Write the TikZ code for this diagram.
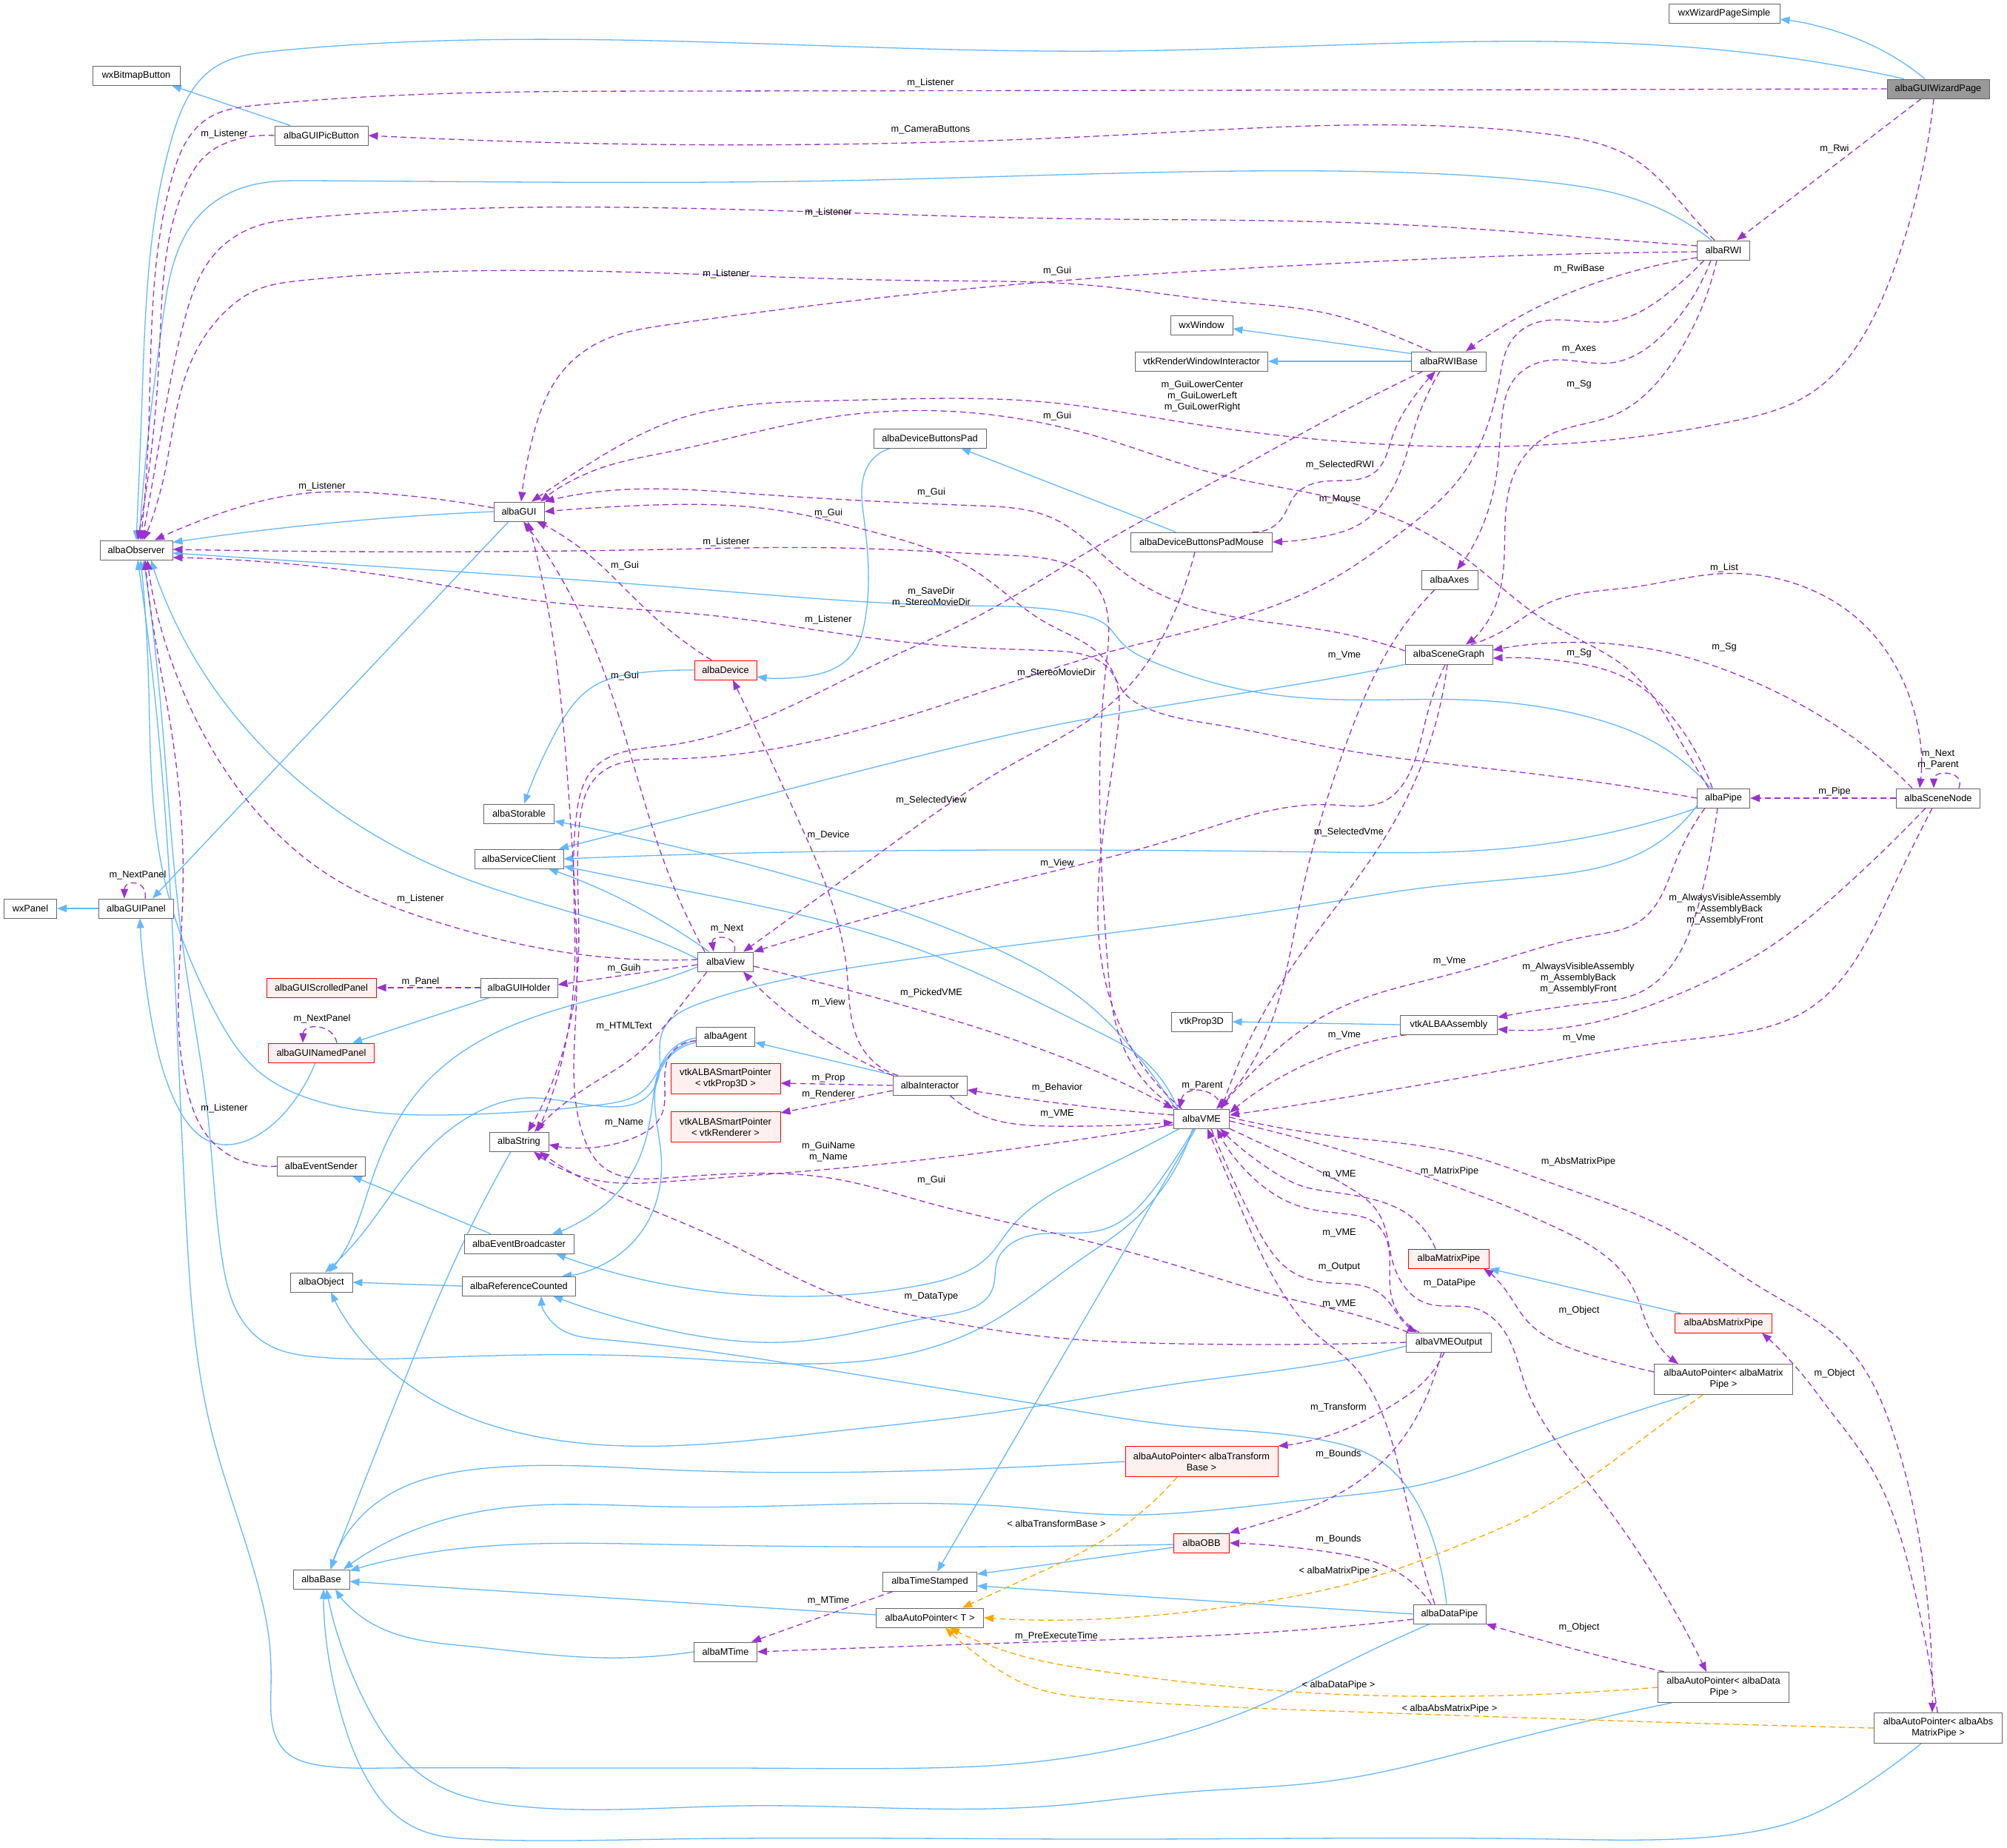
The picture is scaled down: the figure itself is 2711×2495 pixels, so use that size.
\documentclass[tikz,border=0pt]{standalone}
\usepackage{fontspec}
\setmainfont{Liberation Sans}
\usetikzlibrary{arrows.meta,hobby}
\definecolor{nodegray}{HTML}{666666}
\definecolor{redfill}{HTML}{FFF0F0}
\definecolor{inhblue}{HTML}{63B8FF}
\definecolor{usepurple}{HTML}{9A32CD}
\definecolor{tmplorange}{HTML}{FFA500}
\definecolor{wizfill}{HTML}{999999}
\newcommand{\dfont}{\fontsize{12.8}{15}\selectfont}
\pgfdeclarelayer{back}
\pgfdeclarelayer{edges}
\pgfsetlayers{back,edges,main}
\begin{document}
\begin{tikzpicture}[x=1pt,y=-1pt,
  clsnode/.style={draw=nodegray, line width=1pt, fill=white, minimum height=26pt, inner sep=0pt, font=\dfont, align=center},
  twonode/.style={clsnode, minimum height=41pt},
  rednode/.style={clsnode, draw=red, fill=redfill},
  inhline/.style={draw=inhblue, line width=1.3pt, -{Triangle[length=13pt,width=10pt]}},
  useline/.style={draw=usepurple, line width=1.3pt, dash pattern=on 8pt off 5pt, -{Triangle[length=13pt,width=10pt]}},
  tmplline/.style={draw=tmplorange, line width=1.3pt, dash pattern=on 8pt off 5pt, -{Triangle[length=13pt,width=10pt]}},
  hb/.style={use Hobby shortcut},
  lblnode/.style={font=\dfont, inner sep=0pt, align=center}
]
\useasboundingbox (0,0) rectangle (2711,2495);
\begin{pgfonlayer}{back}
\fill[white] (0,0) rectangle (2711,2495);
\end{pgfonlayer}

% ---------------- nodes ----------------
\node[clsnode, minimum width=150pt] (wxwps) at (2329,18) {wxWizardPageSimple};
\node[clsnode, minimum width=138pt, fill=wizfill] (wiz) at (2618,120) {albaGUIWizardPage};
\node[clsnode, minimum width=118pt] (wxbb) at (184,102) {wxBitmapButton};
\node[clsnode, minimum width=126pt] (picb) at (434,183) {albaGUIPicButton};
\node[clsnode, minimum width=98pt] (obs) at (184,743) {albaObserver};
\node[clsnode, minimum width=68pt] (gui) at (701,691) {albaGUI};
\node[clsnode, minimum width=84pt] (wxwin) at (1623,439) {wxWindow};
\node[clsnode, minimum width=179pt] (vtkrwi) at (1623,488) {vtkRenderWindowInteractor};
\node[clsnode, minimum width=152pt] (dbp) at (1256,592) {albaDeviceButtonsPad};
\node[clsnode, minimum width=191pt] (dbpm) at (1623,732) {albaDeviceButtonsPadMouse};
\node[clsnode, minimum width=71pt] (rwi) at (2328,338) {albaRWI};
\node[clsnode, minimum width=101pt] (rwib) at (1957,488) {albaRWIBase};
\node[clsnode, minimum width=76pt] (axes) at (1958,783) {albaAxes};
\node[clsnode, minimum width=118pt] (sg) at (1957,884) {albaSceneGraph};
\node[clsnode, minimum width=71pt] (pipe) at (2328,1078) {albaPipe};
\node[clsnode, minimum width=113pt] (sn) at (2618,1078) {albaSceneNode};
\node[clsnode, minimum width=131pt] (asm) at (1957,1384) {vtkALBAAssembly};
\node[clsnode, minimum width=82pt] (prop) at (1623,1380) {vtkProp3D};
\node[clsnode, minimum width=75pt] (vme) at (1623,1511) {albaVME};
\node[clsnode, minimum width=100pt] (inter) at (1256,1466) {albaInteractor};
\node[rednode, minimum width=148pt, minimum height=41pt] (spprop) at (980,1457) {vtkALBASmartPointer\\< vtkProp3D >};
\node[rednode, minimum width=148pt, minimum height=41pt] (spren) at (980,1522) {vtkALBASmartPointer\\< vtkRenderer >};
\node[clsnode, minimum width=79pt] (agent) at (980,1400) {albaAgent};
\node[clsnode, minimum width=75pt] (view) at (980,1299) {albaView};
\node[rednode, minimum width=84pt] (dev) at (980,905) {albaDevice};
\node[clsnode, minimum width=95pt] (stor) at (701,1099) {albaStorable};
\node[clsnode, minimum width=120pt] (svc) at (701,1160) {albaServiceClient};
\node[clsnode, minimum width=71pt] (wxp) at (41,1227) {wxPanel};
\node[clsnode, minimum width=101pt] (guip) at (184,1227) {albaGUIPanel};
\node[rednode, minimum width=148pt] (scp) at (434,1334) {albaGUIScrolledPanel};
\node[clsnode, minimum width=104pt] (guih) at (701,1334) {albaGUIHolder};
\node[rednode, minimum width=143pt] (np) at (434,1422) {albaGUINamedPanel};
\node[clsnode, minimum width=80pt] (str) at (701,1542) {albaString};
\node[clsnode, minimum width=119pt] (es) at (434,1575) {albaEventSender};
\node[clsnode, minimum width=148pt] (eb) at (701,1680) {albaEventBroadcaster};
\node[clsnode, minimum width=84pt] (obj) at (434,1732) {albaObject};
\node[clsnode, minimum width=153pt] (rc) at (701,1737) {albaReferenceCounted};
\node[clsnode, minimum width=76pt] (base) at (434,2133) {albaBase};
\node[clsnode, minimum width=127pt] (ts) at (1256,2136) {albaTimeStamped};
\node[clsnode, minimum width=145pt] (apt) at (1256,2185) {albaAutoPointer< T >};
\node[clsnode, minimum width=85pt] (mtime) at (980,2231) {albaMTime};
\node[rednode, minimum width=206pt, minimum height=41pt] (aptb) at (1623,1974) {albaAutoPointer< albaTransform\\Base >};
\node[rednode, minimum width=75pt] (obb) at (1623,2084) {albaOBB};
\node[rednode, minimum width=109pt] (mp) at (1957,1700) {albaMatrixPipe};
\node[rednode, minimum width=131pt] (amp) at (2328,1787) {albaAbsMatrixPipe};
\node[clsnode, minimum width=115pt] (vo) at (1957,1813) {albaVMEOutput};
\node[twonode, minimum width=187pt] (apmp) at (2328,1863) {albaAutoPointer< albaMatrix\\Pipe >};
\node[clsnode, minimum width=98pt] (dp) at (1958,2180) {albaDataPipe};
\node[twonode, minimum width=177pt] (apdp) at (2328,2279) {albaAutoPointer< albaData\\Pipe >};
\node[twonode, minimum width=173pt] (apamp) at (2618,2334) {albaAutoPointer< albaAbs\\MatrixPipe >};

% ---------------- edges ----------------
\begin{pgfonlayer}{edges}
% inheritance (blue)
\draw[inhline,hb] ([xshift=-18pt]wiz.north) .. (2555,75) .. (2497,48) .. ([yshift=-8pt]wxwps.east);
\draw[inhline,hb] ([xshift=-46pt]wiz.north) .. (2467,86) .. (2340,69) .. (1500,69) .. (371,69) .. (290,91) .. (232,187) .. (192,536) .. (obs.north);
\draw[inhline] ([xshift=-42pt]picb.north) -- ([xshift=48pt]wxbb.south);
\draw[inhline,hb] ([xshift=-16pt]rwi.north) .. (2206,268) .. (2090,246) .. (1800,231) .. (1132,244) .. (418,244) .. (340,250) .. (270,290) .. (220,430) .. (195,640) .. ([xshift=4pt]obs.north);
\draw[inhline] ([yshift=-3pt]rwib.north west) -- ([yshift=-5pt]wxwin.east);
\draw[inhline] (rwib.west) -- (vtkrwi.east);
\draw[inhline,hb] (gui.west) .. (450,706) .. ([yshift=-3pt]obs.north east);
\draw[inhline] ([xshift=-14pt]gui.south) -- ([xshift=22pt]guip.north);
\draw[inhline] ([xshift=-35pt]dbpm.north) -- ([xshift=42pt]dbp.south);
\draw[inhline,hb] ([xshift=-53pt]dbp.south) .. (1175,625) .. (1167,700) .. (1168,840) .. (1150,885) .. (1086,914) .. ([yshift=-9pt]dev.east);
\draw[inhline,hb] (dev.west) .. (870,908) .. (800,928) .. (750,990) .. ([xshift=7pt]stor.north);
\draw[inhline] (guip.west) -- (wxp.east);
\draw[inhline,hb] ([xshift=-8pt]np.south) .. (395,1490) .. (345,1535) .. (290,1544) .. (240,1495) .. (205,1380) .. ([xshift=5pt]guip.south);
\draw[inhline] ([xshift=-40pt]guih.south) -- ([xshift=42pt]np.north);
\draw[inhline] ([xshift=-38pt]eb.north) -- ([xshift=42pt]es.south);
\draw[inhline] (rc.west) -- (obj.east);
\draw[inhline,hb] ([xshift=-11pt]str.south) .. (625,1680) .. (540,1880) .. ([xshift=12pt]base.north);
\draw[inhline,hb] ([xshift=-22pt]view.north) .. (920,1260) .. (820,1205) .. ([xshift=40pt]svc.south);
\draw[inhline,hb] ([yshift=-7pt]view.west) .. (910,1318) .. (627,1419) .. (560,1480) .. (500,1600) .. (465,1690) .. ([xshift=10pt]obj.north);
\draw[inhline,hb] ([yshift=-5pt]agent.west) .. (900,1430) .. (870,1472) .. (812,1492) .. (638,1505) .. (435,1489) .. (348,1446) .. (290,1366) .. (220,1178) .. (200,900) .. ([xshift=6pt]obs.south);
\draw[inhline,hb] ([yshift=-2pt]agent.west) .. (905,1420) .. (880,1500) .. (850,1590) .. (800,1640) .. ([xshift=45pt]eb.north);
\draw[inhline,hb] ([yshift=-8pt]agent.west) .. (895,1440) .. (893,1560) .. (875,1650) .. (820,1705) .. ([xshift=58pt]rc.north);
\draw[inhline] ([xshift=-48pt]inter.north) -- ([yshift=-8pt]agent.east);
\draw[inhline,hb] ([xshift=-35pt]vme.north) .. (1540,1430) .. (1480,1365) .. (1300,1262) .. (910,1143) .. ([yshift=-10pt]stor.east);
\draw[inhline,hb] ([xshift=-32pt]vme.north) .. (1530,1420) .. (1480,1392) .. (1248,1285) .. (910,1200) .. ([yshift=-10pt]svc.east);
\draw[inhline,hb] ([xshift=-30pt]vme.south) .. (1484,1580) .. (1364,1660) .. (1335,1697) .. (1248,1735) .. (1074,1751) .. (900,1735) .. ([xshift=50pt]eb.south);
\draw[inhline,hb] ([xshift=-10pt]vme.south) .. (1568,1593) .. (1492,1660) .. (1364,1681) .. (1347,1703) .. (1341,1740) .. (1271,1777) .. (1074,1812) .. (900,1796) .. ([xshift=46pt]rc.south);
\draw[inhline,hb] ([xshift=-12pt]vme.south) .. (1526,1653) .. (1457,1703) .. (1335,1788) .. (1219,1830) .. (900,1833) .. (600,1833) .. (430,1833) .. (360,1815) .. (325,1780) .. (300,1700) .. (280,1500) .. (250,1300) .. (212,900) .. ([xshift=10pt]obs.south);
\draw[inhline] ([xshift=-8pt]vme.south) -- ([xshift=10pt]ts.north);
\draw[inhline,hb] ([yshift=-5pt]vo.west) .. (1810,1838) .. (1596,1868) .. (1364,1905) .. (1120,1934) .. (696,1934) .. (638,1916) .. (522,1846) .. ([xshift=13pt]obj.south);
\draw[inhline,hb] ([xshift=-27pt]dp.south) .. (1800,2255) .. (1712,2299) .. (1600,2340) .. (1480,2368) .. (1350,2384) .. (1248,2388) .. (1000,2388) .. (750,2388) .. (520,2388) .. (430,2384) .. (385,2365) .. (368,2330) .. (366,2280) .. (364,2219) .. (348,2139) .. (284,1926) .. (252,1660) .. (215,1000) .. ([xshift=2pt]obs.south);
\draw[inhline,hb] ([xshift=-4pt]dp.north) .. (1945,2113) .. (1916,2033) .. (1858,1969) .. (1800,1948) .. (1596,1926) .. (1422,1900) .. (1190,1862) .. (900,1818) .. (812,1809) .. (754,1793) .. ([xshift=30pt]rc.south);
\draw[inhline] (dp.west) -- ([yshift=-6pt]ts.east);
\draw[inhline] ([yshift=-6pt]obb.west) -- ([yshift=10pt]ts.east);
\draw[inhline,hb] (aptb.west) .. (1364,1982) .. (900,1985) .. (638,1985) .. (551,2006) .. (493,2043) .. ([xshift=13pt]base.north);
\draw[inhline,hb] ([xshift=-46pt]apmp.south) .. (2090,1948) .. (1916,2006) .. (1800,2022) .. (1654,2038) .. (1509,2046) .. (1364,2035) .. (900,2035) .. (696,2035) .. (580,2059) .. ([xshift=30pt]base.north);
\draw[inhline,hb] ([yshift=-2pt]obb.west) .. (900,2086) .. (696,2086) .. (580,2097) .. ([yshift=-2pt]base.north east);
\draw[inhline] ([yshift=4pt]apt.west) -- ([yshift=-3pt]base.east);
\draw[inhline,hb] (mtime.west) .. (812,2239) .. (638,2224) .. (493,2187) .. ([xshift=19pt]base.south);
\draw[inhline,hb] ([xshift=-70pt]apdp.south) .. (2032,2352) .. (1800,2405) .. (1596,2421) .. (1422,2439) .. (1000,2439) .. (696,2439) .. (580,2405) .. (493,2299) .. ([xshift=7pt]base.south);
\draw[inhline,hb] ([xshift=-23pt]apamp.south) .. (2520,2410) .. (2438,2455) .. (2322,2480) .. (2100,2484) .. (1500,2484) .. (900,2484) .. (640,2484) .. (580,2476) .. (535,2452) .. (500,2410) .. (464,2326) .. ([xshift=3pt]base.south);
\draw[inhline] ([xshift=-58pt]amp.north) -- (mp.south east);
\draw[inhline] (asm.west) -- (prop.east);
\draw[inhline,hb] (pipe.south west) .. (2148,1130) .. (1974,1150) .. (1800,1151) .. (900,1155) .. (svc.east);
\draw[inhline,hb] (sg.south west) .. (1800,916) .. (1422,980) .. (1190,1034) .. (900,1109) .. ([xshift=54pt]svc.north);
\draw[inhline,hb] ([xshift=-17pt]pipe.north) .. (2230,1000) .. (2148,969) .. (1974,945) .. (1810,945) .. (1654,926) .. (1560,895) .. (1515,868) .. (1495,845) .. (1460,830) .. (1300,818) .. (910,793) .. (600,771) .. ([yshift=-4pt]obs.east);
\draw[inhline,hb] ([yshift=3pt]pipe.south west) .. (2218,1151) .. (2079,1184) .. (1916,1200) .. (1800,1218) .. (1190,1301) .. (946,1355) .. (895,1393) .. (888,1460) .. (726,1483) .. (643,1503) .. (560,1572) .. (478,1680) .. ([xshift=5pt]obj.north);
\draw[inhline,hb] ([yshift=4pt]view.west) .. (910,1280) .. (624,1185) .. (232,830) .. ([xshift=20pt]obs.south);

% usage (purple dashed)
\draw[useline,hb] (wiz.west) .. (910,123) .. (348,142) .. (279,161) .. (232,241) .. (200,600) .. ([xshift=6pt]obs.north);
\draw[useline] ([xshift=-23pt]wiz.south) -- ([xshift=18pt]rwi.north);
\draw[useline,hb] ([xshift=-6pt]wiz.south) .. (2554,375) .. (2438,536) .. (2340,569) .. (1596,570) .. (1422,544) .. (1132,541) .. (910,568) .. (790,630) .. ([xshift=17pt]gui.north);
\draw[useline,hb] ([xshift=-12pt]rwi.north) .. (2293,300) .. (2206,214) .. (2090,181) .. (1500,183) .. (picb.east);
\draw[useline,hb] (picb.west) .. (325,187) .. (279,209) .. (250,252) .. (215,482) .. ([xshift=2pt]obs.north);
\draw[useline,hb] ([yshift=6pt]rwi.west) .. (2148,321) .. (1974,308) .. (1800,300) .. (1422,295) .. (406,295) .. (348,305) .. (290,343) .. (250,429) .. (215,600) .. ([xshift=8pt]obs.north);
\draw[useline,hb] ([yshift=-2pt]rwi.west) .. (1974,348) .. (1800,356) .. (1422,380) .. (1190,402) .. (900,439) .. (812,461) .. (754,509) .. (720,589) .. ([xshift=3pt]gui.north);
\draw[useline,hb] ([xshift=-24pt]rwib.north) .. (1887,455) .. (1800,425) .. (1654,407) .. (1480,386) .. (1248,379) .. (406,379) .. (348,391) .. (302,423) .. (261,482) .. (220,650) .. ([xshift=10pt]obs.north);
\draw[useline,hb] ([yshift=-10pt]rwi.west) .. (2177,375) .. (2061,423) .. ([xshift=23pt]rwib.north);
\draw[useline,hb] ([xshift=-17pt]rwi.south) .. (2253,445) .. (2177,490) .. (2090,487) .. (2044,514) .. (2029,562) .. (2020,650) .. ([xshift=10pt]axes.north);
\draw[useline,hb] ([xshift=-9pt]rwi.south) .. (2264,482) .. (2177,562) .. (2090,589) .. (2044,643) .. (2032,750) .. (2009,840) .. ([xshift=23pt]sg.north);
\draw[useline,hb] ([xshift=-26pt]rwi.south) .. (2253,396) .. (2177,434) .. (2061,442) .. (2038,466) .. (2026,509) .. (1974,643) .. (1887,723) .. (1800,782) .. (1500,880) .. (1200,975) .. (900,1025) .. (805,1050) .. (783,1110) .. (781,1300) .. ([xshift=12pt]str.north);
\draw[useline,hb] ([xshift=-35pt]rwib.south) .. (1800,563) .. (1654,643) .. (1480,739) .. (1306,840) .. (1190,894) .. (900,1007) .. (801,1039) .. (779,1098) .. (776,1312) .. ([xshift=25pt]str.north);
\draw[useline,hb] ([xshift=69pt]dbpm.north) .. (1730,702) .. (1750,668) .. (1790,650) .. (1858,637) .. (1881,589) .. (1910,536) .. ([xshift=-18pt]rwib.south);
\draw[useline,hb] ([xshift=-12pt]rwib.south) .. (1916,562) .. (1875,670) .. (1829,712) .. (1790,724) .. (dbpm.east);
\draw[useline,hb] ([xshift=-9pt]dbpm.south) .. (1585,830) .. (1515,937) .. (1364,1034) .. (1190,1151) .. (1045,1256) .. ([xshift=24pt]view.north);
\draw[useline,hb] ([xshift=-5pt]sg.south) .. (1928,964) .. (1904,1044) .. (1870,1082) .. (1800,1087) .. (1596,1130) .. (1306,1205) .. (view.north east);
\draw[useline,hb] ([xshift=-2pt]sg.south) .. (1916,1044) .. (1858,1151) .. (1741,1312) .. ([xshift=27pt]vme.north);
\draw[useline,hb] ([xshift=-20pt]axes.south) .. (1880,870) .. (1820,1000) .. (1760,1200) .. (1700,1420) .. ([xshift=20pt]vme.north);
\draw[useline,hb] ([xshift=-25pt]pipe.south) .. (2264,1162) .. (2218,1242) .. (2148,1264) .. (1974,1312) .. (1800,1366) .. (1700,1440) .. ([xshift=25pt]vme.north);
\draw[useline,hb] ([xshift=-57pt]asm.south) .. (1810,1419) .. ([yshift=8pt]vme.east);
\draw[useline,hb] ([xshift=-8pt]sn.south) .. (2554,1205) .. (2438,1366) .. (2351,1395) .. (2264,1406) .. (2060,1440) .. (1800,1485) .. ([yshift=5pt]vme.east);
\draw[useline,hb] ([yshift=-6pt]view.east) .. (1248,1366) .. (1538,1473) .. (vme.north west);
\draw[useline,hb] ([xshift=27pt]inter.south) .. (1335,1510) .. (1422,1521) .. ([yshift=-5pt]vme.west);
\draw[useline,hb] ([yshift=5pt]vme.west) .. (1422,1489) .. ([yshift=-6pt]inter.east);
\draw[useline] ([xshift=28pt]vme.north) .. controls (1645,1468) and (1600,1465) .. ([xshift=-30pt]vme.north);
\draw[useline] (inter.west) -- ([yshift=-6pt]spprop.east);
\draw[useline] ([yshift=-7pt]inter.west) -- ([yshift=-2pt]spren.north east);
\draw[useline,hb] (inter.north west) .. (1100,1395) .. ([xshift=24pt]view.south);
\draw[useline,hb] ([xshift=-43pt]inter.north) .. (1167,1419) .. (1144,1312) .. (1074,1098) .. ([xshift=10pt]dev.south);
\draw[useline] ([xshift=12pt]view.north) .. controls (998,1262) and (960,1262) .. ([xshift=-16pt]view.north);
\draw[useline,hb] ([xshift=-28pt]view.north) .. (900,1172) .. (859,1044) .. (779,820) .. ([xshift=6pt]gui.south);
\draw[useline,hb] ([xshift=-19pt]dev.north) .. (880,830) .. (790,745) .. ([xshift=24pt]gui.south);
\draw[useline,hb] ([xshift=-55pt]vo.north) .. (1821,1773) .. (1737,1753) .. (1568,1703) .. (1400,1660) .. (1248,1623) .. (1132,1593) .. (900,1591) .. (812,1574) .. (789,1537) .. (778,1366) .. (770,1100) .. (745,850) .. ([xshift=12pt]gui.south);
\draw[useline,hb] ([xshift=13pt]vme.south) .. (1695,1653) .. (1749,1720) .. (1800,1733) .. (1842,1737) .. (1871,1753) .. (1897,1787) .. ([xshift=-43pt]vo.north);
\draw[useline,hb] ([xshift=-40pt]vo.north) .. (1880,1753) .. (1876,1687) .. (1859,1653) .. (1821,1640) .. (1758,1630) .. (1695,1593) .. ([xshift=21pt]vme.south);
\draw[useline,hb] ([xshift=-18pt]mp.north) .. (1897,1637) .. (1842,1617) .. (1800,1610) .. (1762,1603) .. (1716,1580) .. ([xshift=25pt]vme.south);
\draw[useline,hb] ([xshift=-20pt]dp.north) .. (1905,2050) .. (1863,1900) .. (1821,1837) .. (1779,1803) .. (1737,1753) .. (1674,1627) .. ([xshift=8pt]vme.south);
\draw[useline,hb] ([yshift=-3pt]vme.east) .. (1800,1550) .. (1958,1600) .. (2106,1660) .. (2206,1740) .. (2229,1798) .. ([xshift=-61pt]apmp.north);
\draw[useline,hb] ([yshift=2pt]vme.east) .. (1800,1534) .. (1974,1558) .. (2090,1596) .. (2264,1666) .. (2380,1740) .. (2496,1820) .. (2554,1926) .. (2601,2139) .. ([xshift=-8pt]apamp.north);
\draw[useline,hb] (vme.south east) .. (1737,1560) .. (1821,1603) .. (1863,1640) .. (1880,1700) .. (1926,1760) .. (1992,1767) .. (2032,1798) .. (2061,1873) .. (2148,2006) .. ([xshift=-23pt]apdp.north);
\draw[useline,hb] ([yshift=10pt]apmp.west) .. (2148,1830) .. (2061,1782) .. (2032,1740) .. ([xshift=-8pt]mp.south east);
\draw[useline,hb] ([xshift=-1pt]apamp.north) .. (2584,2139) .. (2526,1980) .. (2468,1900) .. (2439,1862) .. ([xshift=52pt]amp.south);
\draw[useline,hb] ([xshift=-80pt]apdp.north) .. (2148,2233) .. (dp.south east);
\draw[useline,hb] ([xshift=-6pt]vo.south) .. (1916,1873) .. (1887,1894) .. (1800,1937) .. (aptb.north east);
\draw[useline,hb] ([xshift=-10pt]vo.south) .. (1928,1884) .. (1887,1953) .. (1800,2022) .. (1690,2062) .. (obb.north east);
\draw[useline,hb] ([xshift=-25pt]dp.north) .. (1887,2123) .. (1800,2097) .. (obb.east);
\draw[useline,hb] ([yshift=-7pt]dp.west) .. (1800,2198) .. (1364,2219) .. (mtime.east);
\draw[useline] ([xshift=-50pt]ts.south) -- ([xshift=-8pt]mtime.north east);
\draw[useline,hb] (vo.west) .. (1597,1815) .. (1399,1804) .. (1260,1782) .. (1132,1750) .. (975,1675) .. (858,1625) .. (759,1576) .. ([xshift=28pt]str.south);
\draw[useline,hb] ([yshift=-8pt]vme.west) .. (1132,1578) .. (900,1596) .. (825,1597) .. (759,1579) .. ([xshift=20pt]str.south);
\draw[useline,hb] ([yshift=-6pt]agent.west) .. (905,1425) .. (892,1509) .. (858,1536) .. (809,1549) .. ([yshift=-4pt]str.east);
\draw[useline] ([yshift=-4pt]view.west) -- ([yshift=4pt]guih.east);
\draw[useline,hb] ([xshift=-25pt]view.south) .. (918,1360) .. (858,1426) .. (792,1469) .. ([xshift=21pt]str.north);
\draw[useline] (guih.west) -- (scp.east);
\draw[useline] ([xshift=12pt]guip.north) .. controls (200,1188) and (168,1188) .. ([xshift=-16pt]guip.north);
\draw[useline] ([xshift=21pt]np.north) .. controls (450,1382) and (410,1382) .. ([xshift=-25pt]np.north);
\draw[useline,hb] (es.west) .. (319,1565) .. (279,1533) .. (255,1480) .. (247,1207) .. (232,990) .. (203,820) .. ([xshift=12pt]obs.south);
\draw[useline,hb] ([yshift=3pt]view.west) .. (755,1285) .. (580,1242) .. (464,1194) .. (348,1098) .. (261,964) .. ([xshift=15pt]obs.south);
\draw[useline,hb] ([yshift=5pt]gui.west) .. (522,667) .. (406,667) .. (290,696) .. ([xshift=25pt]obs.north);
\draw[useline,hb] ([xshift=-20pt]pipe.north) .. (2264,991) .. (2206,910) .. (2090,840) .. (1974,750) .. (1810,675) .. (1654,643) .. (1480,589) .. (1306,557) .. (1132,562) .. (900,611) .. (812,632) .. ([xshift=29pt]gui.north);
\draw[useline,hb] (pipe.west) .. (2148,1055) .. (1974,1034) .. (1810,1012) .. (1650,980) .. (1548,956) .. (1518,935) .. (1500,906) .. (1470,886) .. (1422,879) .. (1320,875) .. (1150,858) .. (977,833) .. (700,808) .. (580,787) .. ([yshift=-10pt]obs.east);
\draw[useline,hb] ([yshift=5pt]sg.west) .. (1810,855) .. (1597,815) .. (1515,771) .. (1422,700) .. (1320,683) .. (1016,667) .. (819,663) .. (gui.north east);
\draw[useline,hb] ([xshift=-27pt]vme.north) .. (1505,1366) .. (1509,991) .. (1499,900) .. (1411,840) .. (1320,773) .. (1174,717) .. (1056,690) .. (858,683) .. (gui.east);
\draw[useline,hb] ([xshift=-33pt]vme.north) .. (1520,1420) .. (1496,1300) .. (1494,900) .. (1480,790) .. (1364,750) .. (1132,740) .. (900,742) .. ([yshift=1pt]obs.east);
\draw[useline] (sn.west) -- (pipe.east);
\draw[useline] ([xshift=28pt]sn.north) .. controls (2655,1040) and (2612,1040) .. ([xshift=-6pt]sn.north);
\draw[useline,hb] ([xshift=30pt]sg.north) .. (2032,851) .. (2090,815) .. (2206,793) .. (2322,775) .. (2438,793) .. (2514,840) .. (2566,910) .. ([xshift=-25pt]sn.north);
\draw[useline,hb] ([xshift=-35pt]sn.north) .. (2496,991) .. (2381,926) .. (2264,884) .. (2148,868) .. ([yshift=6pt]sg.east);
\draw[useline,hb] ([xshift=-15pt]pipe.north) .. (2264,975) .. (2206,921) .. (2119,894) .. ([yshift=-5pt]sg.east);
\draw[useline,hb] ([xshift=-8pt]pipe.south) .. (2305,1178) .. (2282,1259) .. (2218,1339) .. (2148,1355) .. ([yshift=10pt]asm.east);
\draw[useline,hb] ([xshift=-17pt]sn.south) .. (2496,1194) .. (2381,1285) .. (2264,1344) .. (2148,1382) .. ([yshift=-6pt]asm.east);

% template (orange dashed)
\draw[tmplline,hb] ([xshift=-33pt]aptb.south) .. (1480,2086) .. (1393,2129) .. ([xshift=44pt]apt.north);
\draw[tmplline,hb] ([xshift=-28pt]apmp.south) .. (2206,1953) .. (2090,2033) .. (1974,2086) .. (1858,2129) .. (1654,2171) .. (1480,2187) .. (apt.east);
\draw[tmplline,hb] (apdp.west) .. (1974,2291) .. (1800,2288) .. (1480,2256) .. (1393,2240) .. ([xshift=27pt]apt.south);
\draw[tmplline,hb] (apamp.west) .. (2148,2323) .. (1800,2311) .. (1480,2294) .. (1393,2278) .. (1335,2246) .. ([xshift=21pt]apt.south);
\end{pgfonlayer}

% ---------------- labels ----------------
\node[lblnode] (l1) at (1257,112) {m\_Listener};
\node[lblnode] (l2) at (1257,175) {m\_CameraButtons};
\node[lblnode] (l3) at (303,181) {m\_Listener};
\node[lblnode] (l4) at (2478,201) {m\_Rwi};
\node[lblnode] (l5) at (1119,287) {m\_Listener};
\node[lblnode] (l6) at (2133,363) {m\_RwiBase};
\node[lblnode] (l7) at (1428,366) {m\_Gui};
\node[lblnode] (l8) at (981,370) {m\_Listener};
\node[lblnode] (l9) at (2133,471) {m\_Axes};
\node[lblnode] (l10) at (2133,519) {m\_Sg};
\node[lblnode] (l11) at (1624,535) {m\_GuiLowerCenter\\m\_GuiLowerLeft\\m\_GuiLowerRight};
\node[lblnode] (l12) at (1428,562) {m\_Gui};
\node[lblnode] (l13) at (1810,628) {m\_SelectedRWI};
\node[lblnode] (l14) at (435,657) {m\_Listener};
\node[lblnode] (l15) at (1258,665) {m\_Gui};
\node[lblnode] (l16) at (1810,674) {m\_Mouse};
\node[lblnode] (l17) at (1119,693) {m\_Gui};
\node[lblnode] (l18) at (981,732) {m\_Listener};
\node[lblnode] (l19) at (844,764) {m\_Gui};
\node[lblnode] (l20) at (2329,767) {m\_List};
\node[lblnode] (l21) at (1258,807) {m\_SaveDir\\m\_StereoMovieDir};
\node[lblnode] (l22) at (1119,837) {m\_Listener};
\node[lblnode] (l23) at (2329,874) {m\_Sg};
\node[lblnode] (l24) at (2133,882) {m\_Sg};
\node[lblnode] (l25) at (1816,885) {m\_Vme};
\node[lblnode] (l26) at (1427,909) {m\_StereoMovieDir};
\node[lblnode] (l27) at (844,913) {m\_Gui};
\node[lblnode] (l28) at (2618,1026) {m\_Next\\m\_Parent};
\node[lblnode] (l29) at (2478,1069) {m\_Pipe};
\node[lblnode] (l30) at (1258,1081) {m\_SelectedView};
\node[lblnode] (l31) at (1822,1124) {m\_SelectedVme};
\node[lblnode] (l32) at (1119,1128) {m\_Device};
\node[lblnode] (l33) at (1428,1166) {m\_View};
\node[lblnode] (l34) at (186,1182) {m\_NextPanel};
\node[lblnode] (l35) at (568,1214) {m\_Listener};
\node[lblnode] (l36) at (2330,1228) {m\_AlwaysVisibleAssembly\\m\_AssemblyBack\\m\_AssemblyFront};
\node[lblnode] (l37) at (982,1254) {m\_Next};
\node[lblnode] (l38) at (1958,1298) {m\_Vme};
\node[lblnode] (l39) at (843,1308) {m\_Guih};
\node[lblnode] (l40) at (2132,1321) {m\_AlwaysVisibleAssembly\\m\_AssemblyBack\\m\_AssemblyFront};
\node[lblnode] (l41) at (568,1326) {m\_Panel};
\node[lblnode] (l42) at (1258,1341) {m\_PickedVME};
\node[lblnode] (l43) at (1119,1354) {m\_View};
\node[lblnode] (l44) at (435,1376) {m\_NextPanel};
\node[lblnode] (l45) at (843,1386) {m\_HTMLText};
\node[lblnode] (l46) at (1816,1398) {m\_Vme};
\node[lblnode] (l47) at (2133,1402) {m\_Vme};
\node[lblnode] (l48) at (1119,1456) {m\_Prop};
\node[lblnode] (l49) at (1624,1466) {m\_Parent};
\node[lblnode] (l50) at (1428,1469) {m\_Behavior};
\node[lblnode] (l51) at (1119,1478) {m\_Renderer};
\node[lblnode] (l52) at (303,1497) {m\_Listener};
\node[lblnode] (l53) at (1428,1504) {m\_VME};
\node[lblnode] (l54) at (843,1516) {m\_Name};
\node[lblnode] (l55) at (1119,1556) {m\_GuiName\\m\_Name};
\node[lblnode] (l56) at (2132,1569) {m\_AbsMatrixPipe};
\node[lblnode] (l57) at (1958,1582) {m\_MatrixPipe};
\node[lblnode] (l58) at (1809,1586) {m\_VME};
\node[lblnode] (l59) at (1258,1594) {m\_Gui};
\node[lblnode] (l60) at (1809,1665) {m\_VME};
\node[lblnode] (l61) at (1809,1711) {m\_Output};
\node[lblnode] (l62) at (1958,1733) {m\_DataPipe};
\node[lblnode] (l63) at (1258,1751) {m\_DataType};
\node[lblnode] (l64) at (1809,1761) {m\_VME};
\node[lblnode] (l65) at (2133,1770) {m\_Object};
\node[lblnode] (l66) at (2478,1855) {m\_Object};
\node[lblnode] (l67) at (1808,1901) {m\_Transform};
\node[lblnode] (l68) at (1808,1964) {m\_Bounds};
\node[lblnode] (l69) at (1427,2058) {< albaTransformBase >};
\node[lblnode] (l70) at (1808,2079) {m\_Bounds};
\node[lblnode] (l71) at (1808,2122) {< albaMatrixPipe >};
\node[lblnode] (l72) at (1119,2162) {m\_MTime};
\node[lblnode] (l73) at (2133,2198) {m\_Object};
\node[lblnode] (l74) at (1427,2210) {m\_PreExecuteTime};
\node[lblnode] (l75) at (1808,2276) {< albaDataPipe >};
\node[lblnode] (l76) at (1958,2308) {< albaAbsMatrixPipe >};
\end{tikzpicture}
\end{document}
